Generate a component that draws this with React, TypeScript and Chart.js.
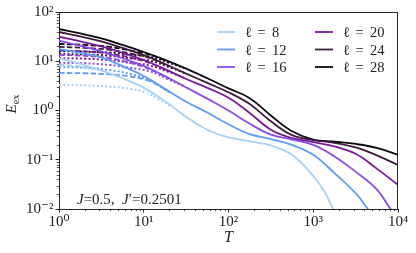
import React, { useEffect, useRef } from 'react';
import { Chart, registerables } from 'chart.js';

Chart.register(...registerables);

const SERIF = "'Liberation Serif', 'DejaVu Serif', serif";

const ellValues = [8, 12, 16, 20, 24, 28];
const ellColors = ['#a6d1f4', '#5f9cf5', '#8b4de6', '#7a1a97', '#3f193d', '#0c090c'];

const xTickValues = [1, 10, 100, 1000, 10000];
const yTickValues = [0.01, 0.1, 1, 10, 100];

// solid curves
const solid8T = [1, 1.78, 3.16, 5.62, 10, 17.8, 31.6, 56.2, 100, 178, 316, 562, 1000, 1334, 1778];
const solid8E = [11.6, 8.81, 6.46, 4.52, 2.88, 1.55, 0.741, 0.407, 0.285, 0.237, 0.195, 0.126, 0.0468, 0.0234, 0.0089];
const solid12T = [1, 1.78, 3.16, 5.62, 10, 17.8, 31.6, 56.2, 100, 178, 316, 562, 1000, 1778, 3162, 4467, 5623];
const solid12E = [17.7, 14.8, 12.0, 7.94, 5.01, 2.75, 1.51, 0.912, 0.525, 0.331, 0.263, 0.2, 0.126, 0.0537, 0.0209, 0.00955, 0.005];
const solid16T = [1, 1.78, 3.16, 5.62, 10, 17.8, 31.6, 56.2, 100, 178, 316, 562, 1000, 1778, 3162, 5623, 7943, 10000];
const solid16E = [26.1, 20.7, 15.8, 11.5, 8.0, 5.01, 2.95, 1.74, 1.0, 0.537, 0.324, 0.257, 0.2, 0.117, 0.0575, 0.0251, 0.0107, 0.0063];
const solid20T = [1, 1.78, 3.16, 5.62, 10, 17.8, 31.6, 56.2, 100, 178, 316, 562, 1000, 1778, 3162, 5623, 10000];
const solid20E = [31.5, 25.4, 19.95, 14.8, 10.6, 6.92, 4.37, 2.88, 1.82, 0.891, 0.407, 0.275, 0.229, 0.186, 0.132, 0.0661, 0.0309];
const solid24T = [1, 1.78, 3.16, 5.62, 10, 17.8, 31.6, 56.2, 100, 178, 316, 562, 1000, 1778, 3162, 5623, 10000];
const solid24E = [39.3, 32.0, 25.4, 18.6, 13.4, 8.81, 5.62, 3.63, 2.34, 1.35, 0.603, 0.316, 0.251, 0.221, 0.178, 0.123, 0.0782];
const solid28T = [1, 1.78, 3.16, 5.62, 10, 17.8, 31.6, 56.2, 100, 178, 316, 562, 1000, 1778, 3162, 5623, 10000];
const solid28E = [45.2, 36.7, 29.0, 21.4, 15.4, 10.7, 7.08, 4.52, 2.82, 1.78, 0.794, 0.38, 0.257, 0.232, 0.209, 0.174, 0.126];

// dashed curves
const dashed8T = [1, 1.5, 2.2, 3];
const dashed8E = [8.5, 8.1, 7.3, 6.6];
const dashed12T = [1, 2, 4, 7, 12, 20];
const dashed12E = [5.8, 5.7, 5.4, 4.9, 3.9, 2.4];
const dashed16T = [1, 2, 4, 7, 12, 20];
const dashed16E = [13.5, 12.9, 11.5, 9.2, 6.8, 4.35];
const dashed20T = [1, 2, 4, 7, 12, 20];
const dashed20E = [16.5, 15.8, 14.2, 11.8, 9.1, 6.2];
const dashed24T = [1, 2, 4, 7, 12, 20];
const dashed24E = [19.5, 18.7, 17, 14.3, 11.5, 7.8];
const dashed28T = [1, 2, 4, 7, 12, 20];
const dashed28E = [22.4, 21.5, 19.5, 16.5, 13.5, 9.6];

// dotted curves
const dotted8T = [1, 2, 4, 7, 10, 15, 20];
const dotted8E = [3.3, 3.25, 3.05, 2.75, 2.4, 1.7, 1.25];
const dotted12T = [1, 2, 4, 7, 12, 20];
const dotted12E = [7.6, 7.4, 6.6, 5.5, 4.0, 2.35];
const dotted16T = [1, 2, 4, 7, 12, 20, 30];
const dotted16E = [9.3, 9.1, 8.4, 7.3, 6.2, 4.2, 3.1];
const dotted20T = [1, 2, 4, 7, 12, 20, 30];
const dotted20E = [11.6, 11.3, 10.5, 9.3, 8.1, 6.0, 4.6];
const dotted24T = [1, 2, 4, 7, 12, 20, 30];
const dotted24E = [14, 13.7, 12.9, 11.5, 10.2, 7.6, 5.8];
const dotted28T = [1, 2, 4, 7, 12, 20, 30];
const dotted28E = [16, 15.7, 15, 13.6, 12.3, 9.3, 7.3];

const solidSeries = [
  [solid8T, solid8E], [solid12T, solid12E], [solid16T, solid16E],
  [solid20T, solid20E], [solid24T, solid24E], [solid28T, solid28E],
];
const dashedSeries = [
  [dashed8T, dashed8E], [dashed12T, dashed12E], [dashed16T, dashed16E],
  [dashed20T, dashed20E], [dashed24T, dashed24E], [dashed28T, dashed28E],
];
const dottedSeries = [
  [dotted8T, dotted8E], [dotted12T, dotted12E], [dotted16T, dotted16E],
  [dotted20T, dotted20E], [dotted24T, dotted24E], [dotted28T, dotted28E],
];

const SUP: Record<string, string> = { '-': '\u207B', '0': '\u2070', '1': '\u00B9', '2': '\u00B2', '3': '\u00B3', '4': '\u2074' };
const powLabel = (v: number) => '10' + String(Math.round(Math.log10(v))).split('').map((c) => SUP[c]).join('');

const toPoints = (t: number[], e: number[]) => t.map((x, i) => ({ x, y: e[i] }));

function drawRuns(ctx: CanvasRenderingContext2D, x: number, y: number, runs: [string, string][]) {
  for (const [text, font] of runs) {
    ctx.font = font;
    ctx.fillText(text, x, y);
    x += ctx.measureText(text).width;
  }
}

const decorations = {
  id: 'decorations',
  afterDraw(chart: any) {
    const { ctx, chartArea: a, scales } = chart;
    ctx.save();
    ctx.strokeStyle = '#262626';
    ctx.lineWidth = 1;
    ctx.beginPath();
    ctx.moveTo(a.left, Math.round(a.top) + 0.5);
    ctx.lineTo(a.right, Math.round(a.top) + 0.5);
    ctx.moveTo(Math.round(a.right) - 0.5, a.top);
    ctx.lineTo(Math.round(a.right) - 0.5, a.bottom);
    ctx.stroke();
    ctx.lineWidth = 0.8;
    ctx.beginPath();
    for (let e = 0; e < 4; e++) {
      for (let k = 2; k <= 9; k++) {
        const px = Math.round(scales.x.getPixelForValue(k * Math.pow(10, e))) + 0.5;
        ctx.moveTo(px, a.bottom);
        ctx.lineTo(px, a.bottom + 2.2);
      }
    }
    for (let e = -2; e < 2; e++) {
      for (let k = 2; k <= 9; k++) {
        const py = Math.round(scales.y.getPixelForValue(k * Math.pow(10, e))) + 0.5;
        ctx.moveTo(a.left, py);
        ctx.lineTo(a.left - 2.2, py);
      }
    }
    ctx.stroke();

    ctx.fillStyle = '#222';
    ctx.save();
    ctx.translate(16, 104);
    ctx.rotate(-Math.PI / 2);
    ctx.textBaseline = 'alphabetic';
    ctx.font = `italic 15px ${SERIF}`;
    const wE = ctx.measureText('E').width;
    ctx.font = `10.5px ${SERIF}`;
    const wS = ctx.measureText('ex').width;
    const x0 = -(wE + wS) / 2;
    ctx.font = `italic 15px ${SERIF}`;
    ctx.fillText('E', x0, 0);
    ctx.font = `10.5px ${SERIF}`;
    ctx.fillText('ex', x0 + wE, 3);
    ctx.restore();

    ctx.textBaseline = 'alphabetic';
    ctx.fillStyle = '#222';
    const it = `italic 15px ${SERIF}`;
    const rm = `15px ${SERIF}`;
    drawRuns(ctx, a.left + 18, a.bottom - 5, [
      ['J', it], ['=0.5,  ', rm], ['J', it], ['\u2032=0.2501', rm],
    ]);

    const rowsY = [32, 49.5, 67];
    for (let i = 0; i < ellValues.length; i++) {
      const col = Math.floor(i / 3);
      const row = i % 3;
      const lx = col === 0 ? 217 : 315;
      const ly = rowsY[row];
      ctx.strokeStyle = ellColors[i];
      ctx.lineWidth = 1.8;
      ctx.setLineDash([]);
      ctx.beginPath();
      ctx.moveTo(lx, ly);
      ctx.lineTo(lx + 18, ly);
      ctx.stroke();
      ctx.fillStyle = '#222';
      const tx = lx + 28;
      const by = ly + 5;
      ctx.font = `14.5px ${SERIF}`;
      ctx.fillText('\u2113', tx, by);
      ctx.fillText('=', tx + 12.5, by);
      ctx.fillText(String(ellValues[i]), tx + 27, by);
    }
    ctx.restore();
  },
};

export default function App() {
  const canvasRef = useRef<HTMLCanvasElement | null>(null);

  useEffect(() => {
    document.body.style.margin = '0';
    const canvas = canvasRef.current;
    if (!canvas) return;

    const datasets: any[] = [];
    ellValues.forEach((ell, i) => {
      datasets.push({
        label: `\u2113 = ${ell}`,
        data: toPoints(solidSeries[i][0], solidSeries[i][1]),
        borderColor: ellColors[i],
        borderWidth: 1.8,
        pointRadius: 0,
        tension: 0.4,
        fill: false,
      });
    });
    ellValues.forEach((ell, i) => {
      datasets.push({
        label: `dashed ${ell}`,
        data: toPoints(dashedSeries[i][0], dashedSeries[i][1]),
        borderColor: ellColors[i],
        borderWidth: 1.8,
        borderDash: [5.5, 2.4],
        pointRadius: 0,
        tension: 0.4,
        fill: false,
      });
      datasets.push({
        label: `dotted ${ell}`,
        data: toPoints(dottedSeries[i][0], dottedSeries[i][1]),
        borderColor: ellColors[i],
        borderWidth: 2,
        borderDash: [2, 2.2],
        pointRadius: 0,
        tension: 0.4,
        fill: false,
      });
    });

    const tickFont = { family: SERIF, size: 15 };

    const chart = new Chart(canvas, {
      type: 'line',
      data: { datasets },
      options: {
        animation: false,
        responsive: false,
        devicePixelRatio: 1,
        layout: { padding: { top: 12, right: 18, left: 0, bottom: 0 } },
        plugins: { legend: { display: false }, tooltip: { enabled: false } },
        scales: {
          x: {
            type: 'logarithmic',
            min: 1,
            max: 10000,
            afterBuildTicks: (axis: any) => {
              axis.ticks = xTickValues.map((v) => ({ value: v, major: true }));
            },
            afterFit: (scale: any) => {
              scale.height = 44;
            },
            ticks: {
              autoSkip: false,
              maxRotation: 0,
              padding: 1,
              color: '#222',
              font: tickFont,
              callback: (v: any) => powLabel(Number(v)),
            },
            grid: { display: true, drawOnChartArea: false, drawTicks: true, tickLength: 3.5, tickColor: '#262626', tickWidth: 1 },
            border: { display: true, color: '#262626', width: 1 },
            title: { display: true, text: 'T', color: '#222', font: { family: SERIF, size: 16, style: 'italic' }, padding: { top: 0, bottom: 6 } },
          },
          y: {
            type: 'logarithmic',
            min: 0.01,
            max: 100,
            afterBuildTicks: (axis: any) => {
              axis.ticks = yTickValues.map((v) => ({ value: v, major: true }));
            },
            afterFit: (scale: any) => {
              scale.width = 59;
            },
            ticks: {
              autoSkip: false,
              padding: 2,
              color: '#222',
              font: tickFont,
              callback: (v: any) => powLabel(Number(v)),
            },
            grid: { display: true, drawOnChartArea: false, drawTicks: true, tickLength: 3.5, tickColor: '#262626', tickWidth: 1 },
            border: { display: true, color: '#262626', width: 1 },
          },
        },
      },
      plugins: [decorations],
    } as any);

    return () => chart.destroy();
  }, []);

  return (
    <div style={{ width: 416, height: 253, position: 'relative', background: '#fff' }}>
      <canvas ref={canvasRef} width={416} height={253} style={{ display: 'block' }} />
    </div>
  );
}
